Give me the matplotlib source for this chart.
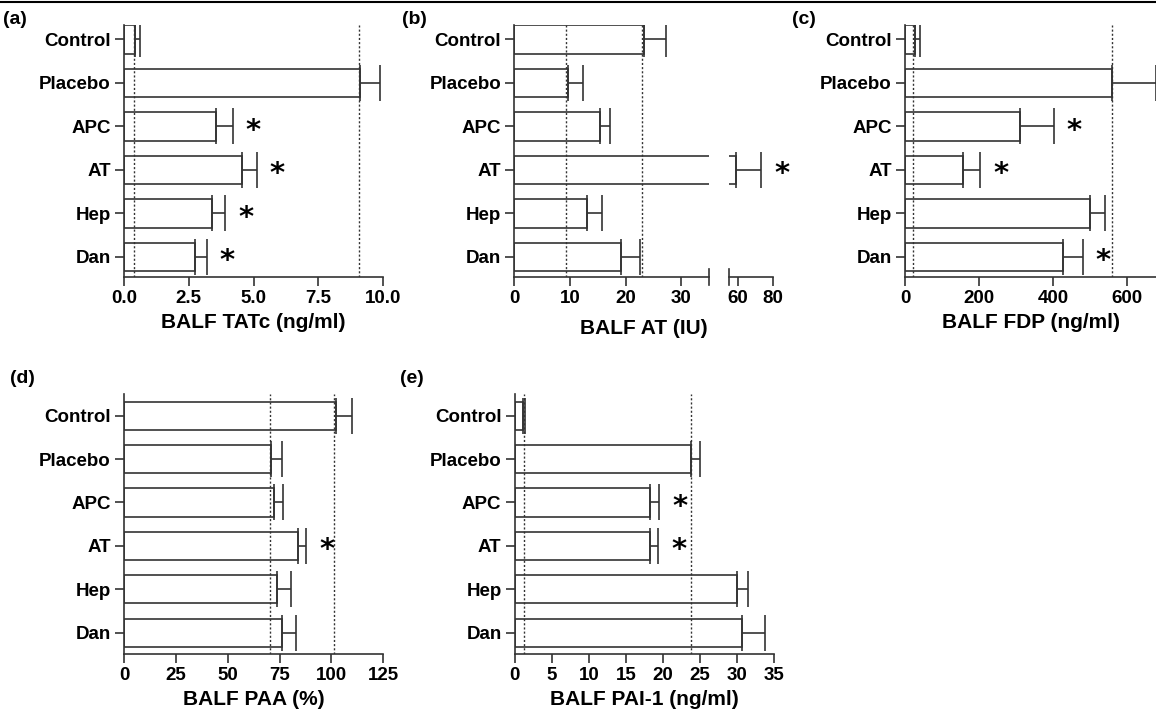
import matplotlib
matplotlib.use('Agg')
import matplotlib.pyplot as plt
import numpy as np
from matplotlib.lines import Line2D

plt.rcParams['font.family'] = ['Liberation Sans', 'DejaVu Sans']
plt.rcParams['font.weight'] = 'bold'

groups = ['Control', 'Placebo', 'APC', 'AT', 'Hep', 'Dan']

# (a) BALF TATc
tatc_mean = [0.42, 9.13, 3.57, 4.56, 3.41, 2.75]
tatc_sem = [0.20, 0.74, 0.62, 0.56, 0.48, 0.44]
tatc_ref = [0.39, 9.06]
tatc_sig = [0, 0, 1, 1, 1, 1]

# (b) BALF AT (broken axis)
at_mean = [23.2, 9.6, 15.3, 59.1, 13.1, 19.1]
at_sem = [4.0, 2.7, 1.8, 14.2, 2.6, 3.5]
at_ref = [9.2, 22.9]
at_sig = [0, 0, 0, 1, 0, 0]

# (c) BALF FDP
fdp_mean = [27, 558, 311, 157, 500, 427]
fdp_sem = [13, 118, 90, 46, 40, 52]
fdp_ref = [22, 558]
fdp_sig = [0, 0, 1, 1, 0, 1]

# (d) BALF PAA
paa_mean = [102.0, 70.7, 72.3, 83.7, 73.7, 76.0]
paa_sem = [7.7, 5.3, 4.3, 4.0, 6.6, 6.9]
paa_ref = [70.5, 101.4]
paa_sig = [0, 0, 0, 1, 0, 0]

# (e) BALF PAI-1
pai_mean = [1.17, 23.85, 18.3, 18.2, 30.0, 30.7]
pai_sem = [0.18, 1.15, 1.2, 1.15, 1.5, 3.1]
pai_ref = [1.2, 23.8]
pai_sig = [0, 0, 1, 1, 0, 0]

W, H = 1156, 717
fig = plt.figure(figsize=(W / 100, H / 100), dpi=100)
fig.patch.set_facecolor('white')

EDGE = '#333333'
TICK_FS = 13.5
LABEL_FS = 15
STAR_FS = 21


def px_axes(l, t, r, b):
    return fig.add_axes([l / W, 1 - b / H, (r - l) / W, (b - t) / H])


def style(ax, ylim):
    for s in ['top', 'right']:
        ax.spines[s].set_visible(False)
    for s in ['left', 'bottom']:
        ax.spines[s].set_linewidth(1.2)
        ax.spines[s].set_color(EDGE)
    ax.tick_params(axis='both', length=6.5, width=1.2, color=EDGE,
                   labelsize=TICK_FS, pad=3)
    ax.set_ylim(*ylim)


def stars(ax, mean, sem, sig):
    for yi, m, e, s in zip(range(len(mean)), mean, sem, sig):
        if s:
            ax.annotate('*', xy=(m + e, yi), xytext=(15, -3),
                        textcoords='offset points', ha='center', va='center',
                        fontsize=STAR_FS, fontweight='bold', color='black',
                        family='DejaVu Sans', annotation_clip=False)


def bars(ax, mean, sem):
    y = np.arange(len(groups))
    ax.barh(y, mean, height=0.65, color='white', edgecolor=EDGE,
            linewidth=1.2, zorder=2)
    ax.errorbar(mean, y, xerr=[np.zeros(len(sem)), sem], fmt='none',
                ecolor=EDGE, elinewidth=1.2, capsize=13, capthick=1.2,
                zorder=3)


def draw_panel(ax, mean, sem, ref, sig, ylim):
    bars(ax, mean, sem)
    for r in ref:
        ax.axvline(r, color=EDGE, linestyle=(0, (1.5, 1.5)), linewidth=1.0,
                   zorder=4)
    stars(ax, mean, sem, sig)
    style(ax, ylim)
    ax.set_yticks(np.arange(len(groups)), groups)


row1 = (5.46, -0.33)
row2 = (5.5, -0.5)

# (a)
ax_a = px_axes(124, 25, 383, 277)
draw_panel(ax_a, tatc_mean, tatc_sem, tatc_ref, tatc_sig, row1)
ax_a.set_xlim(0, 10)
ax_a.set_xticks([0, 2.5, 5, 7.5, 10], ['0.0', '2.5', '5.0', '7.5', '10.0'])
ax_a.set_xlabel('BALF TATc (ng/ml)', fontsize=LABEL_FS, fontweight='bold')

# (b) left segment
ax_b1 = px_axes(514.3, 25, 709.3, 277)
draw_panel(ax_b1, at_mean, at_sem, at_ref, [0] * 6, row1)
ax_b1.set_xlim(0, 35)
ax_b1.set_xticks([0, 10, 20, 30])

# (b) right segment: only the AT bar reaches here
ax_b2 = px_axes(729, 25, 773.3, 277)
bars(ax_b2, at_mean, at_sem)
stars(ax_b2, at_mean, at_sem, at_sig)
style(ax_b2, row1)
ax_b2.spines['left'].set_visible(False)
ax_b2.set_yticks([])
ax_b2.set_xlim(55, 80)
ax_b2.set_xticks([60, 80])
# break marks at segment ends
for ax, xp in [(ax_b1, 1.0), (ax_b2, 0.0)]:
    ax.add_line(Line2D([xp, xp], [-0.03, 0.03], transform=ax.transAxes,
                       color=EDGE, lw=1.2, clip_on=False))
fig.text((514.3 + 773.3) / 2 / W, 1 - 329 / H, 'BALF AT (IU)',
         ha='center', va='center', fontsize=LABEL_FS, fontweight='bold')

# (c)
ax_c = px_axes(905, 25, 1157, 277)
draw_panel(ax_c, fdp_mean, fdp_sem, fdp_ref, fdp_sig, row1)
ax_c.set_xlim(0, 680)
ax_c.set_xticks([0, 200, 400, 600])
ax_c.set_xlabel('BALF FDP (ng/ml)', fontsize=LABEL_FS, fontweight='bold')

# (d)
ax_d = px_axes(124, 394, 383.3, 654.3)
draw_panel(ax_d, paa_mean, paa_sem, paa_ref, paa_sig, row2)
ax_d.set_xlim(0, 125)
ax_d.set_xticks([0, 25, 50, 75, 100, 125])
ax_d.set_xlabel('BALF PAA (%)', fontsize=LABEL_FS, fontweight='bold')

# (e)
ax_e = px_axes(514.7, 394, 774, 654.3)
draw_panel(ax_e, pai_mean, pai_sem, pai_ref, pai_sig, row2)
ax_e.set_xlim(0, 35)
ax_e.set_xticks([0, 5, 10, 15, 20, 25, 30, 35])
ax_e.set_xlabel('BALF PAI-1 (ng/ml)', fontsize=LABEL_FS, fontweight='bold')

# panel letters
for lab, xp, yp in [('(a)', 3, 19), ('(b)', 402, 19), ('(c)', 792, 19),
                    ('(d)', 10, 378), ('(e)', 400, 378)]:
    fig.text(xp / W, 1 - yp / H, lab, ha='left', va='center',
             fontsize=14, fontweight='bold')

# top rule
fig.add_artist(Line2D([0, 1], [1 - 1.5 / H] * 2, color='black', lw=1.5))

fig.savefig('out.png', dpi=100, facecolor='white')
